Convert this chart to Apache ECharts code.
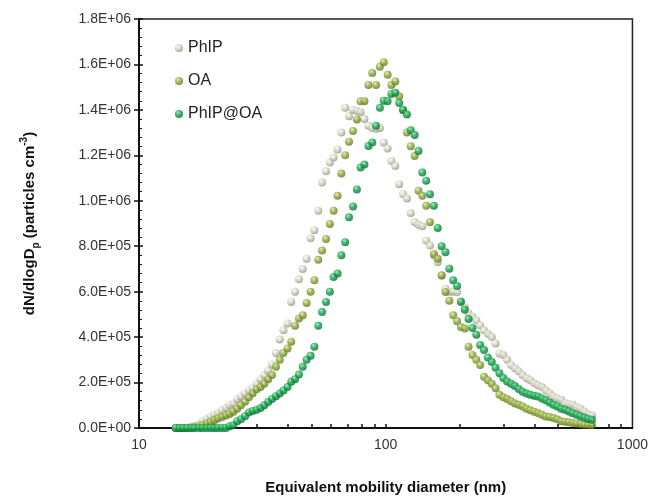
<!DOCTYPE html>
<html>
<head>
<meta charset="utf-8">
<script src="https://cdn.jsdelivr.net/npm/echarts@6/dist/echarts.min.js"></script>
<style>
  html, body { margin: 0; padding: 0; background: #fff; }
  #chart { width: 651px; height: 500px; }
</style>
</head>
<body>
<div id="chart"></div>
<script>
// SMPS channel mid-points (nm)
var diameter = [14.1, 14.6, 15.1, 15.7, 16.3, 16.8, 17.5, 18.1, 18.8, 19.5,
  20.2, 20.9, 21.7, 22.5, 23.3, 24.1, 25.0, 25.9, 26.9, 27.9,
  28.9, 30.0, 31.1, 32.2, 33.4, 34.6, 35.9, 37.2, 38.5, 40.0,
  41.4, 42.9, 44.5, 46.1, 47.8, 49.6, 51.4, 53.3, 55.2, 57.3,
  59.4, 61.5, 63.8, 66.1, 68.5, 71.0, 73.7, 76.4, 79.1, 82.0,
  85.1, 88.2, 91.4, 94.7, 98.2, 101.8, 105.5, 109.4, 113.4, 117.6,
  121.9, 126.3, 131.0, 135.8, 140.7, 145.9, 151.2, 156.8, 162.5, 168.5,
  174.7, 181.1, 187.7, 194.6, 201.7, 209.1, 216.7, 224.7, 232.9, 241.4,
  250.3, 259.5, 269.0, 278.8, 289.0, 299.6, 310.6, 322.0, 333.8, 346.0,
  358.7, 371.8, 385.4, 399.5, 414.2, 429.4, 445.1, 461.4, 478.3, 495.8,
  514.0, 532.8, 552.3, 572.5, 593.5, 615.3, 637.8, 661.2, 685.4];

// dN/dlogDp (particles cm-3)
var phip = [0, 0, 0, 2000, 5000, 10000, 18000, 30000, 38000, 50000,
  58000, 66000, 78000, 88000, 100000, 108000, 126000, 138000, 152000, 165000,
  175000, 195000, 215000, 232000, 252000, 280000, 330000, 390000, 430000, 460000,
  555000, 600000, 655000, 700000, 745000, 835000, 870000, 956000, 1080000, 1130000,
  1168000, 1190000, 1226000, 1300000, 1409000, 1372000, 1400000, 1395000, 1390000, 1360000,
  1330000, 1320000, 1317000, 1320000, 1256000, 1230000, 1175000, 1153000, 1073000, 1030000,
  1010000, 946000, 905000, 894000, 888000, 825000, 803000, 759000, 730000, 670000,
  613000, 600000, 600000, 598000, 560000, 530000, 505000, 490000, 474000, 452000,
  430000, 415000, 400000, 372000, 328000, 321000, 300000, 277000, 263000, 250000,
  233000, 219000, 210000, 197000, 188000, 180000, 165000, 153000, 139000, 130000,
  124000, 110000, 105000, 102000, 92000, 85000, 73000, 60000, 55000];

var oa = [0, 0, 0, 0, 2000, 5000, 8000, 14000, 20000, 27000,
  34000, 42000, 48000, 55000, 62000, 72000, 85000, 100000, 115000, 135000,
  153000, 170000, 180000, 195000, 215000, 233000, 270000, 300000, 330000, 350000,
  380000, 450000, 482000, 496000, 550000, 600000, 650000, 740000, 781000, 832000,
  898000, 956000, 1022000, 1120000, 1200000, 1260000, 1307000, 1358000, 1438000, 1438000,
  1510000, 1562000, 1510000, 1590000, 1610000, 1555000, 1510000, 1525000, 1460000, 1400000,
  1300000, 1240000, 1197000, 1044000, 1022000, 978000, 905000, 766000, 745000, 672000,
  599000, 560000, 496000, 470000, 445000, 438000, 358000, 321000, 300000, 277000,
  226000, 210000, 195000, 175000, 146000, 135000, 128000, 118000, 108000, 102000,
  95000, 85000, 78000, 72000, 66000, 58000, 51000, 48000, 44000, 38000,
  30000, 27000, 25000, 22000, 20000, 18000, 15000, 14000, 13000];

var phipOa = [0, 0, 0, 0, 0, 0, 0, 0, 0, 0,
  0, 0, 0, 0, 8000, 12000, 30000, 38000, 52000, 68000,
  75000, 80000, 88000, 100000, 114000, 128000, 140000, 152000, 165000, 180000,
  204000, 215000, 235000, 270000, 300000, 318000, 358000, 450000, 510000, 555000,
  600000, 665000, 680000, 760000, 818000, 927000, 975000, 1050000, 1146000, 1160000,
  1241000, 1256000, 1330000, 1409000, 1440000, 1438000, 1470000, 1475000, 1430000, 1400000,
  1380000, 1310000, 1290000, 1219000, 1124000, 1088000, 1029000, 978000, 880000, 800000,
  774000, 701000, 650000, 625000, 555000, 520000, 480000, 440000, 410000, 365000,
  343000, 310000, 290000, 265000, 241000, 220000, 205000, 195000, 185000, 172000,
  160000, 152000, 146000, 142000, 139000, 130000, 122000, 112000, 102000, 95000,
  85000, 80000, 73000, 65000, 58000, 52000, 46000, 40000, 36000];

var seriesNames = ['PhIP', 'OA', 'PhIP@OA'];
var xMinorTicks = [20, 30, 40, 50, 60, 70, 80, 90, 100, 200, 300, 400, 500, 600, 700, 800, 900];

var chart = echarts.init(document.getElementById('chart'));

function pairs(ys) {
  return diameter.map(function (d, i) { return [d, ys[i]]; });
}

// shaded ball look of the original markers
function ball(light, base, dark) {
  return new echarts.graphic.RadialGradient(0.38, 0.32, 0.72, [
    { offset: 0, color: light },
    { offset: 0.45, color: base },
    { offset: 1, color: dark }
  ]);
}

function sci(v) {
  if (v === 0) return '0.0E+00';
  var e = Math.floor(Math.log10(v) + 1e-9);
  var m = v / Math.pow(10, e);
  return m.toFixed(1) + 'E+' + (e < 10 ? '0' : '') + e;
}

var font = 'Arial, "Liberation Sans", sans-serif';

chart.setOption({
  backgroundColor: '#fff',
  textStyle: { fontFamily: font },
  grid: {
    left: 139, right: 17, top: 19, bottom: 70,
    show: true, borderColor: '#222', borderWidth: 1.5
  },
  legend: {
    data: seriesNames,
    orient: 'vertical',
    left: 170, top: 35,
    icon: 'circle',
    itemWidth: 8, itemHeight: 8, itemGap: 17,
    textStyle: { fontSize: 16, color: '#222', fontFamily: font }
  },
  xAxis: {
    type: 'log',
    logBase: 10,
    min: 10, max: 1000,
    axisLine: { lineStyle: { color: '#111', width: 2 } },
    axisTick: { show: true, inside: true, length: 4, customValues: xMinorTicks, lineStyle: { color: '#111', width: 1.5 } },
    axisLabel: {
      fontSize: 14, color: '#333', margin: 10,
      formatter: function (v) { return String(Math.round(v)); }
    },
    splitLine: { show: false },
    name: 'Equivalent mobility diameter (nm)',
    nameLocation: 'middle',
    nameGap: 52,
    nameTextStyle: { fontSize: 15, fontWeight: 'bold', color: '#111', fontFamily: font }
  },
  yAxis: [{
    type: 'value',
    min: 0, max: 1800000, interval: 200000,
    axisLine: { show: true, lineStyle: { color: '#111', width: 2 } },
    axisTick: { show: true, length: 5, lineStyle: { color: '#111', width: 1.5 } },
    axisLabel: { formatter: sci, fontSize: 14, color: '#333', margin: 8 },
    splitLine: { show: false },
    name: 'dN/dlogD{sub|p} (particles cm{sup|-3})',
    nameLocation: 'middle',
    nameGap: 98,
    nameTextStyle: {
      fontSize: 15, fontWeight: 'bold', color: '#111', lineHeight: 22, fontFamily: font,
      rich: {
        sub: { fontSize: 10, fontWeight: 'bold', color: '#111', lineHeight: 12, verticalAlign: 'bottom', fontFamily: font },
        sup: { fontSize: 10, fontWeight: 'bold', color: '#111', lineHeight: 12, verticalAlign: 'top', fontFamily: font }
      }
    }
  }, {
    // inner ticks + minor ticks on the same scale
    type: 'value',
    position: 'left',
    offset: 0,
    min: 0, max: 1800000, interval: 200000,
    axisLine: { show: false },
    axisTick: { show: true, inside: true, length: 4, lineStyle: { color: '#111', width: 1.5 } },
    minorTick: { show: true, splitNumber: 5, length: 3, lineStyle: { color: '#111', width: 1 } },
    axisLabel: { show: false },
    splitLine: { show: false }
  }],
  series: [{
    name: 'PhIP',
    type: 'scatter',
    symbol: 'circle',
    symbolSize: 8,
    itemStyle: { color: ball('#fbfbf6', '#d3d2c0', '#8e8d7a') },
    data: pairs(phip)
  }, {
    name: 'OA',
    type: 'scatter',
    symbol: 'circle',
    symbolSize: 8,
    itemStyle: { color: ball('#dfeaa8', '#8ca83a', '#5a731c') },
    data: pairs(oa)
  }, {
    name: 'PhIP@OA',
    type: 'scatter',
    symbol: 'circle',
    symbolSize: 8,
    itemStyle: { color: ball('#8fe8b0', '#12a24a', '#06682c') },
    data: pairs(phipOa)
  }]
});
</script>
</body>
</html>
